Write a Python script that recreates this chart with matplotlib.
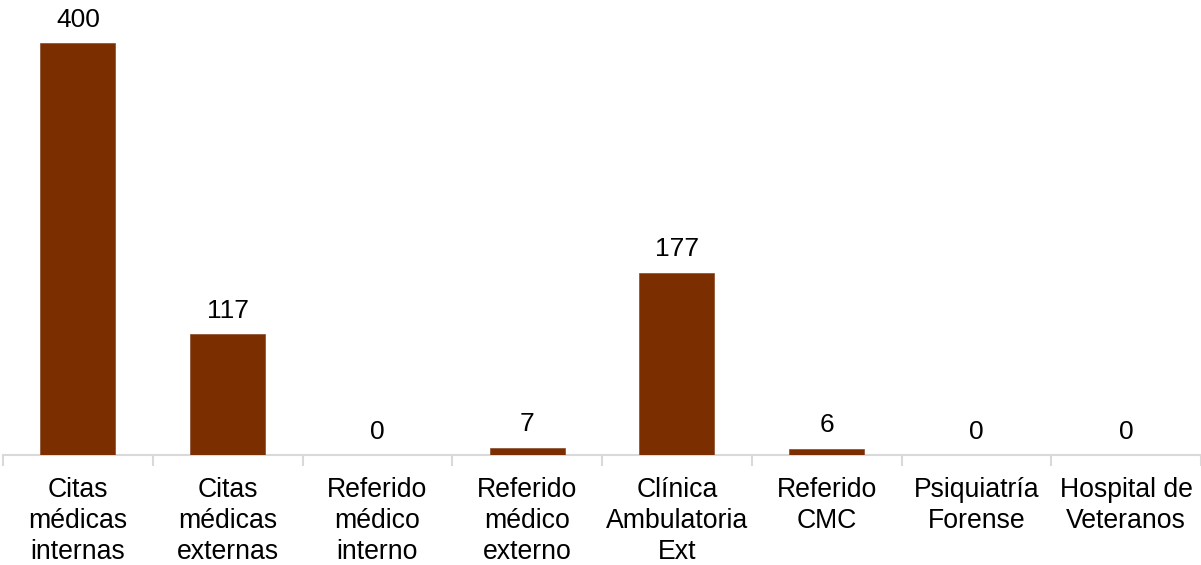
import matplotlib
matplotlib.use("Agg")
import matplotlib.pyplot as plt
import numpy as np

categories = ["Citas\nmédicas\ninternas", "Citas\nmédicas\nexternas", "Referido\nmédico\ninterno",
              "Referido\nmédico\nexterno", "Clínica\nAmbulatoria\nExt", "Referido\nCMC",
              "Psiquiatría\nForense", "Hospital de\nVeteranos"]
values = [400, 117, 0, 7, 177, 6, 0, 0]

plt.rcParams['font.family'] = ['Liberation Sans', 'DejaVu Sans']

fig = plt.figure(figsize=(12.01, 5.65), dpi=100)
ax = fig.add_axes([3/1201, 110/565, 1198/1201, 455/565])

x = np.arange(len(categories))
ax.bar(x, values, width=0.5, color='#7B2F00', edgecolor='#8a4a2a', linewidth=0.5, zorder=3)
for xi, v in zip(x, values):
    ax.text(xi, v + 11, str(v), ha='center', va='bottom', fontsize=19, color='black')

ax.set_xlim(-0.5, len(categories) - 0.5)
ax.set_ylim(0, 441.7)
ax.set_yticks([])
for s in ['top', 'right', 'left']:
    ax.spines[s].set_visible(False)
ax.spines['bottom'].set_color('#D9D9D9')
ax.spines['bottom'].set_linewidth(1.5)

ax.set_xticks(x)
ax.set_xticklabels(categories, fontsize=19.2, linespacing=1.27)
ax.tick_params(axis='x', length=0, pad=15.5)
ax.set_xticks(np.arange(len(categories) + 1) - 0.5, minor=True)
ax.tick_params(axis='x', which='minor', length=8, width=1.5, color='#D9D9D9')

fig.savefig('out.png', dpi=100)
